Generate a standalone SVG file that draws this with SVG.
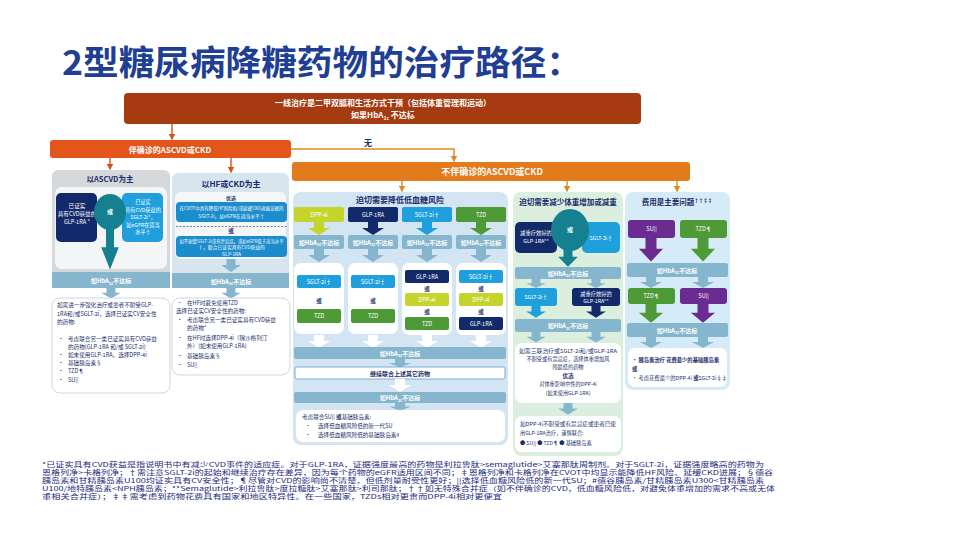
<svg xmlns="http://www.w3.org/2000/svg" width="960" height="540" viewBox="0 0 960 540">
<defs>
<style>
text{font-family:"Noto Sans CJK SC","Noto Sans",sans-serif}
.b{font-size:5.6px;fill:#1c2f6b}
.w{fill:#fff;text-anchor:middle;font-size:5.6px}
.wb{fill:#fff;text-anchor:middle;font-size:6px;font-weight:700}
.h{fill:#1a2c6a;text-anchor:middle;font-weight:700;font-size:8px}
.c{text-anchor:middle}
.k{font-weight:700}
.bar{fill:#86b6cd}
.nv{fill:#12296a}
.lb{fill:#1fa0dc}
.gr{fill:#4e9a37}
.yg{fill:#c4d42b}
.pu{fill:#6b2c91}
.tl{fill:#15808f}
.wh{fill:#fff}
.wbox{fill:#fff;stroke:#c4ccd4;stroke-width:0.8}
.fn{font-size:6.4px;fill:#1c2a80}
</style>
<path id="da" d="M-5,0H5V6H11L0,13L-11,6H-5Z"/>
<text id="hb" class="wb">如HbA<tspan font-size="4" dy="1.5">1c</tspan><tspan dy="-1.5">不达标</tspan></text>
<marker id="mr" viewBox="0 0 10 10" refX="8" refY="5" markerWidth="4.5" markerHeight="4.5" orient="auto"><path d="M0,0L10,5L0,10Z" fill="#d0541c"/></marker>
<marker id="ma" viewBox="0 0 10 10" refX="8" refY="5" markerWidth="4.5" markerHeight="4.5" orient="auto"><path d="M0,0L10,5L0,10Z" fill="#d98b1f"/></marker>
</defs>
<rect width="960" height="540" fill="#fff"/>
<text x="62" y="75" font-size="34" font-weight="700" fill="#1f3f95" textLength="520" lengthAdjust="spacingAndGlyphs">2型糖尿病降糖药物的治疗路径：</text>

<g id="connectors" fill="none" stroke-width="1.4">
<line x1="172" y1="124" x2="172" y2="139" stroke="#d0541c" marker-end="url(#mr)"/>
<line x1="110" y1="158" x2="110" y2="169" stroke="#d0541c" marker-end="url(#mr)"/>
<line x1="231" y1="158" x2="231" y2="172" stroke="#d0541c" marker-end="url(#mr)"/>
<polyline points="291,149 454,149 454,161" stroke="#d98b1f" marker-end="url(#ma)"/>
<line x1="402" y1="180" x2="402" y2="191" stroke="#d98b1f" marker-end="url(#ma)"/>
<line x1="567" y1="180" x2="567" y2="191" stroke="#d98b1f" marker-end="url(#ma)"/>
<line x1="677" y1="180" x2="677" y2="191" stroke="#d98b1f" marker-end="url(#ma)"/>
<text x="368" y="146" font-size="8" font-weight="700" fill="#1a2c6a" stroke="none" text-anchor="middle">无</text>
</g>

<g id="first-line">
<rect x="124" y="93" width="517" height="31" rx="4" fill="#a63a10"/>
<text x="383" y="106" class="wb" style="font-size:8px">一线治疗是二甲双胍和生活方式干预（包括体重管理和运动）</text>
<text x="383" y="118" class="wb" style="font-size:8px">如果HbA<tspan font-size="5" dy="2">1c</tspan><tspan dy="-2"> 不达标</tspan></text>
</g>

<g id="with-ascvd">
<rect x="50" y="140" width="241" height="18" rx="3" fill="#e3561b"/>
<text x="170" y="152.5" class="wb" style="font-size:8px">伴确诊的ASCVD或CKD</text>
</g>

<g id="without-ascvd">
<rect x="292" y="162" width="398" height="19" rx="3" fill="#e27b1c"/>
<text x="492" y="175" class="wb" style="font-size:9px">不伴确诊的ASCVD或CKD</text>
</g>

<g id="ascvd">
<rect x="52" y="170" width="118" height="118" rx="6" fill="#d6d9dc"/>
<text x="110" y="182" class="h" style="font-size:7.5px">以ASCVD为主</text>
<rect x="55" y="187" width="112" height="82" rx="7" fill="#f3f5f7"/>
<rect x="56" y="193" width="41" height="49" rx="5" class="nv"/>
<text class="w" x="77" y="208">已证实</text>
<text class="w" x="77" y="216">具有CVD获益的</text>
<text class="w" x="77" y="224">GLP-1RA *</text>
<rect x="122" y="193" width="41" height="49" rx="5" class="lb"/>
<text class="w" x="143" y="204" style="font-size:5.2px">已证实</text>
<text class="w" x="143" y="211.5" style="font-size:5.2px">具有CVD获益的</text>
<text class="w" x="143" y="219" style="font-size:5.2px">SGLT-2i*，</text>
<text class="w" x="143" y="226.5" style="font-size:5.2px">如eGFR在适当</text>
<text class="w" x="143" y="234" style="font-size:5.2px">水平†</text>
<ellipse cx="110" cy="212" rx="16" ry="18" class="tl"/>
<text x="110" y="214" class="wb">或</text>
<use href="#da" transform="translate(110,228) scale(0.8,3.2)" class="tl"/>
<rect x="52" y="272" width="118" height="16" class="bar"/>
<use href="#hb" x="111" y="283"/>
</g>

<g id="ascvd-next">
<use href="#da" transform="translate(111,288) scale(0.9,0.8)" class="bar"/>
<rect x="52" y="298" width="118" height="95" rx="8" class="wbox"/>
<text class="b" x="57" y="307">如需进一步强化治疗或患者不耐受GLP-</text>
<text class="b" x="57" y="315.5">1RA和/或SGLT-2i，选择已证实CV安全性</text>
<text class="b" x="57" y="324">的药物:</text>
<text class="b" x="58" y="341">•</text><text class="b" x="68" y="341">考虑联合另一类已证实具有CVD获益</text>
<text class="b" x="68" y="349">的药物(GLP-1RA 和/或 SGLT-2i)</text>
<text class="b" x="58" y="357">•</text><text class="b" x="68" y="357">如未使用GLP-1RA，选择DPP-4i</text>
<text class="b" x="58" y="365">•</text><text class="b" x="68" y="365">基础胰岛素§</text>
<text class="b" x="58" y="373">•</text><text class="b" x="68" y="373">TZD¶</text>
<text class="b" x="58" y="382">•</text><text class="b" x="68" y="382">SU||</text>
</g>

<g id="hf-ckd">
<rect x="172" y="173" width="117" height="115" rx="6" fill="#d8e5ee"/>
<text x="231" y="187" class="h">以HF或CKD为主</text>
<rect x="175" y="192" width="111" height="67" rx="6" fill="#f4f7fa"/>
<text x="231" y="199.5" class="c k" style="font-size:5px" fill="#1a2c6a">优选</text>
<rect x="176" y="202" width="111" height="20" rx="4" fill="#1b8ccc"/>
<text class="w" x="231.5" y="210" style="font-size:4.8px" textLength="104" lengthAdjust="spacingAndGlyphs">在CVOT中具有降低HF风险和/或延缓CKD进展证据的</text>
<text class="w" x="231.5" y="218" style="font-size:4.8px">SGLT-2i，如eGFR在适当水平†</text>
<line x1="176" y1="226.5" x2="287" y2="226.5" stroke="#444" stroke-width="0.7" stroke-dasharray="2,1.5"/>
<text x="231" y="233" class="c k" style="font-size:5.5px" fill="#1a2c6a">或</text>
<rect x="176" y="236" width="111" height="21" rx="4" fill="#1b8ccc"/>
<text class="w" x="231.5" y="242.5" style="font-size:4.8px" textLength="104" lengthAdjust="spacingAndGlyphs">如不耐受SGLT-2i或有禁忌症，或如eGFR低于适当水平</text>
<text class="w" x="231.5" y="249" style="font-size:4.8px">†，联合已证实具有CVD获益的</text>
<text class="w" x="231.5" y="255.5" style="font-size:4.8px">GLP-1RA</text>
<use href="#da" transform="translate(231,259) scale(0.9,1)" class="bar"/>
<rect x="172" y="273" width="117" height="15" class="bar"/>
<use href="#hb" x="231" y="283.5"/>
</g>

<g id="hf-next">
<use href="#da" transform="translate(231,288) scale(0.9,0.8)" class="bar"/>
<rect x="172" y="298" width="118" height="77" rx="8" class="wbox"/>
<text class="b" x="177" y="305">•</text><text class="b" x="187" y="305">在HF时避免使用TZD</text>
<text class="b" x="176" y="313">选择已证实CV安全性的药物:</text>
<text class="b" x="177" y="322">•</text><text class="b" x="187" y="322">考虑联合另一类已证实具有CVD获益</text>
<text class="b" x="187" y="330">的药物*</text>
<text class="b" x="177" y="340">•</text><text class="b" x="187" y="340">在HF时选择DPP-4i（除沙格列汀</text>
<text class="b" x="187" y="348">外）(如未使用GLP-1RA)</text>
<text class="b" x="177" y="358">•</text><text class="b" x="187" y="358">基础胰岛素§</text>
<text class="b" x="177" y="367">•</text><text class="b" x="187" y="367">SU||</text>
</g>

<g id="hypo">
<rect x="293" y="192" width="215" height="253" rx="8" fill="#d3e5f2"/>
<text x="400" y="203" class="h">迫切需要降低低血糖风险</text>
<rect x="294" y="207" width="50" height="15" rx="2" class="yg"/><text class="w" x="319" y="216.5">DPP-4i</text>
<rect x="348" y="207" width="50" height="15" rx="2" class="nv"/><text class="w" x="373" y="216.5">GLP-1RA</text>
<rect x="402" y="207" width="50" height="15" rx="2" class="lb"/><text class="w" x="427" y="216.5">SGLT-2i†</text>
<rect x="456" y="207" width="50" height="15" rx="2" class="gr"/><text class="w" x="481" y="216.5">TZD</text>
<use href="#da" transform="translate(319,222)" class="yg"/>
<use href="#da" transform="translate(373,222)" class="nv"/>
<use href="#da" transform="translate(427,222)" class="lb"/>
<use href="#da" transform="translate(481,222)" class="gr"/>
<rect x="294" y="235" width="50" height="14" rx="2" class="bar"/><use href="#hb" x="319" y="244.5"/>
<rect x="348" y="235" width="50" height="14" rx="2" class="bar"/><use href="#hb" x="373" y="244.5"/>
<rect x="402" y="235" width="50" height="14" rx="2" class="bar"/><use href="#hb" x="427" y="244.5"/>
<rect x="456" y="235" width="50" height="14" rx="2" class="bar"/><use href="#hb" x="481" y="244.5"/>
<use href="#da" transform="translate(319,249)" class="bar"/>
<use href="#da" transform="translate(373,249)" class="bar"/>
<use href="#da" transform="translate(427,249)" class="bar"/>
<use href="#da" transform="translate(481,249)" class="bar"/>
<rect x="294" y="263" width="50" height="71" rx="7" class="wh"/>
<rect x="348" y="263" width="50" height="71" rx="7" class="wh"/>
<rect x="402" y="263" width="50" height="72" rx="7" class="wh"/>
<rect x="456" y="263" width="50" height="72" rx="7" class="wh"/>
<rect x="297" y="275" width="44" height="13" rx="2" class="lb"/><text class="w" x="319" y="283.5">SGLT-2i†</text>
<text class="c k" x="319" y="303" style="font-size:5.5px" fill="#1a2c6a">或</text>
<rect x="297" y="309" width="44" height="14" rx="2" class="gr"/><text class="w" x="319" y="318">TZD</text>
<rect x="351" y="275" width="44" height="13" rx="2" class="lb"/><text class="w" x="373" y="283.5">SGLT-2i†</text>
<text class="c k" x="373" y="303" style="font-size:5.5px" fill="#1a2c6a">或</text>
<rect x="351" y="309" width="44" height="14" rx="2" class="gr"/><text class="w" x="373" y="318">TZD</text>
<rect x="405" y="270" width="44" height="13" rx="2" class="nv"/><text class="w" x="427" y="278.5">GLP-1RA</text>
<text class="c k" x="427" y="290.5" style="font-size:5.5px" fill="#1a2c6a">或</text>
<rect x="405" y="293" width="44" height="13" rx="2" class="yg"/><text class="w" x="427" y="301.5">DPP-4i</text>
<text class="c k" x="427" y="314" style="font-size:5.5px" fill="#1a2c6a">或</text>
<rect x="405" y="317" width="44" height="13" rx="2" class="gr"/><text class="w" x="427" y="325.5">TZD</text>
<rect x="459" y="270" width="44" height="13" rx="2" class="lb"/><text class="w" x="481" y="278.5">SGLT-2i†</text>
<text class="c k" x="481" y="290.5" style="font-size:5.5px" fill="#1a2c6a">或</text>
<rect x="459" y="293" width="44" height="13" rx="2" class="yg"/><text class="w" x="481" y="301.5">DPP-4i</text>
<text class="c k" x="481" y="314" style="font-size:5.5px" fill="#1a2c6a">或</text>
<rect x="459" y="317" width="44" height="13" rx="2" class="nv"/><text class="w" x="481" y="325.5">GLP-1RA</text>
<use href="#da" transform="translate(319,335)" class="wh"/>
<use href="#da" transform="translate(373,335)" class="wh"/>
<use href="#da" transform="translate(427,335)" class="wh"/>
<use href="#da" transform="translate(481,335)" class="wh"/>
<rect x="294" y="347" width="212" height="12" rx="2" class="bar"/><use href="#hb" x="400" y="355.5"/>
<use href="#da" transform="translate(400,359) scale(1,0.65)" class="bar"/>
<rect x="295" y="367" width="210" height="12" rx="2" fill="#fff" stroke="#5b9fd0" stroke-width="0.8"/>
<text x="400" y="375.5" class="c k" style="font-size:6px" fill="#1a2c6a">继续联合上述其它药物</text>
<use href="#da" transform="translate(400,379)" class="wh"/>
<rect x="294" y="392" width="212" height="11" rx="2" class="bar"/><use href="#hb" x="400" y="400"/>
<use href="#da" transform="translate(400,403) scale(1,0.6)" class="bar"/>
<rect x="296" y="410" width="209" height="32" rx="7" class="wh"/>
<text class="b" x="302" y="419">考虑联合SU|| <tspan font-weight="700">或</tspan>基础胰岛素:</text>
<text class="b" x="305" y="428">•</text><text class="b" x="318" y="428">选择低血糖风险低的新一代SU</text>
<text class="b" x="305" y="437">•</text><text class="b" x="318" y="437">选择低血糖风险低的基础胰岛素#</text>
</g>

<g id="weight">
<rect x="513" y="192" width="110" height="264" rx="8" fill="#dcefdf"/>
<text x="568" y="205" class="h" style="font-size:7.5px">迫切需要减少体重增加或减重</text>
<rect x="515" y="222" width="42" height="31" rx="5" class="nv"/>
<text class="w" x="536" y="235" style="font-size:5.3px">减重疗效好的</text>
<text class="w" x="536" y="243" style="font-size:5.3px">GLP-1RA**</text>
<rect x="582" y="222" width="38" height="31" rx="5" class="lb"/>
<text class="w" x="601" y="240" style="font-size:5.3px">SGLT-2i†</text>
<ellipse cx="570" cy="230" rx="19" ry="21" class="tl"/>
<text x="570" y="232" class="wb">或</text>
<use href="#da" transform="translate(568,248) scale(0.9,1.45)" class="tl"/>
<rect x="515" y="267" width="106" height="12" rx="2" class="bar"/><use href="#hb" x="568" y="275.5"/>
<use href="#da" transform="translate(536,279) scale(0.9,0.7)" class="bar"/>
<use href="#da" transform="translate(596,279) scale(0.9,0.7)" class="bar"/>
<rect x="515" y="288" width="42" height="18" rx="3" class="lb"/><text class="w" x="536" y="299" style="font-size:5.3px">SGLT-2i†</text>
<rect x="572" y="288" width="48" height="18" rx="3" class="nv"/>
<text class="w" x="596" y="296" style="font-size:5.3px">减重疗效好的</text>
<text class="w" x="596" y="303" style="font-size:5.3px">GLP-1RA**</text>
<use href="#da" transform="translate(536,306) scale(0.9,0.9)" class="lb"/>
<use href="#da" transform="translate(596,306) scale(0.9,0.9)" class="nv"/>
<rect x="515" y="319" width="106" height="13" rx="2" class="bar"/><use href="#hb" x="568" y="328"/>
<use href="#da" transform="translate(536,332) scale(0.9,0.8)" class="bar"/>
<use href="#da" transform="translate(596,332) scale(0.9,0.8)" class="bar"/>
<rect x="515" y="343" width="106" height="60" rx="7" class="wh"/>
<text class="b c" x="568" y="353" style="font-size:5.2px" textLength="98" lengthAdjust="spacingAndGlyphs">如需三联治疗或SGLT-2i和/或GLP-1RA</text>
<text class="b c" x="568" y="361" style="font-size:5.2px">不耐受或有禁忌症，选择体重增加风</text>
<text class="b c" x="568" y="369" style="font-size:5.2px">险最低的药物</text>
<text class="b c k" x="568" y="378">优选</text>
<text class="b c" x="568" y="386" style="font-size:5.2px">对体重影响中性的DPP-4i</text>
<text class="b c" x="568" y="395" style="font-size:5.2px">(如未使用GLP-1RA)</text>
<use href="#da" transform="translate(568,403) scale(0.9,0.9)" class="bar"/>
<rect x="515" y="416" width="106" height="36" rx="7" class="wh"/>
<text class="b" x="520" y="426" style="font-size:5.2px" textLength="96" lengthAdjust="spacingAndGlyphs">如DPP-4i不耐受或有禁忌症或患者已使</text>
<text class="b" x="520" y="435" style="font-size:5.2px">用GLP-1RA治疗，谨慎联合:</text>
<text class="b" x="520" y="445" style="font-size:5.2px">● SU||  ● TZD¶  ● 基础胰岛素</text>
</g>

<g id="cost">
<rect x="625" y="192" width="105" height="198" rx="8" fill="#d5ebf7"/>
<text x="677" y="205" class="h" style="font-size:7.5px">费用是主要问题<tspan font-size="4.5" dy="-3">††‡‡</tspan></text>
<rect x="628" y="220" width="47" height="18" rx="3" class="pu"/><text class="w" x="651.5" y="231">SU||</text>
<rect x="680" y="220" width="47" height="18" rx="3" class="gr"/><text class="w" x="703.5" y="231">TZD¶</text>
<use href="#da" transform="translate(651,238) scale(1.1,1.8)" class="pu"/>
<use href="#da" transform="translate(703,238) scale(1.1,1.8)" class="gr"/>
<rect x="627" y="263" width="101" height="14" rx="2" class="bar"/><use href="#hb" x="677" y="272.5"/>
<use href="#da" transform="translate(651,277) scale(1,0.85)" class="bar"/>
<use href="#da" transform="translate(703,277) scale(1,0.85)" class="bar"/>
<rect x="628" y="288" width="47" height="16" rx="3" class="gr"/><text class="w" x="651.5" y="298">TZD¶</text>
<rect x="680" y="288" width="47" height="16" rx="3" class="pu"/><text class="w" x="703.5" y="298">SU||</text>
<use href="#da" transform="translate(651,304) scale(1.1,1.45)" class="gr"/>
<use href="#da" transform="translate(703,304) scale(1.1,1.45)" class="pu"/>
<rect x="627" y="323" width="101" height="14" rx="2" class="bar"/><use href="#hb" x="677" y="332.5"/>
<use href="#da" transform="translate(651,337) scale(1,0.85)" class="bar"/>
<use href="#da" transform="translate(703,337) scale(1,0.85)" class="bar"/>
<rect x="628" y="348" width="99" height="39" rx="7" class="wh"/>
<text class="b k" x="632" y="362" style="font-size:5.3px">• 胰岛素治疗 花费最少的基础胰岛素</text>
<text class="b k" x="632" y="371" style="font-size:5.3px">或</text>
<text class="b" x="632" y="380" style="font-size:5.3px">• 考虑花费最少的DPP-4i <tspan font-weight="700">或</tspan>SGLT-2i‡‡</text>
</g>

<g id="footnotes">
<text class="fn" x="42" y="467" textLength="722" lengthAdjust="spacingAndGlyphs">*已证实具有CVD获益是指说明书中有减少CVD事件的适应症。对于GLP-1RA，证据强度最高的药物是利拉鲁肽&gt;semaglutide&gt;艾塞那肽周制剂。对于SGLT-2i，证据强度略高的药物为</text>
<text class="fn" x="42" y="475" textLength="731" lengthAdjust="spacingAndGlyphs">恩格列净&gt;卡格列净；†需注意SGLT-2i的起始和继续治疗存在差异，因为每个药物的eGFR适用区间不同；‡恩格列净和卡格列净在CVOT中均显示能降低HF风险、延缓CKD进展；§德谷</text>
<text class="fn" x="42" y="483" textLength="722" lengthAdjust="spacingAndGlyphs">胰岛素和甘精胰岛素U100均证实具有CV安全性；¶尽管对CVD的影响尚不清楚，但低剂量耐受性更好；||选择低血糖风险低的新一代SU；#德谷胰岛素/甘精胰岛素U300&lt;甘精胰岛素</text>
<text class="fn" x="42" y="491" textLength="733" lengthAdjust="spacingAndGlyphs">U100/地特胰岛素&lt;NPH胰岛素；**Semaglutide&gt;利拉鲁肽&gt;度拉糖肽&gt;艾塞那肽&gt;利司那肽；††如无特殊合并症（如不伴确诊的CVD，低血糖风险低，对避免体重增加的需求不高或无体</text>
<text class="fn" x="42" y="499" textLength="460" lengthAdjust="spacingAndGlyphs">重相关合并症）；‡‡需考虑到药物花费具有国家和地区特异性。在一些国家，TZDs相对更贵而DPP-4i相对更便宜</text>
</g>
</svg>
